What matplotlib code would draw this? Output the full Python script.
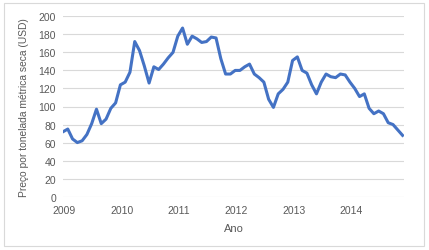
import numpy as np
import matplotlib.pyplot as plt
from matplotlib.patches import Rectangle

# monthly price, Jan 2009 .. Dec 2014
price = [72, 75, 64, 60, 62, 69, 81, 97, 81, 86, 98, 104,
         124, 127, 138, 172, 162, 145, 126, 144, 141, 147, 154, 160,
         178, 187, 169, 178, 175, 171, 172, 177, 176, 153, 136, 136,
         140, 140, 144, 147, 136, 132, 127, 108, 99, 114, 119, 127,
         151, 155, 140, 137, 124, 114, 127, 136, 133, 132, 136, 135,
         127, 120, 111, 114, 98, 92, 95, 92, 82, 80, 74, 68]
years = ['2009', '2010', '2011', '2012', '2013', '2014']
yticks = [0, 20, 40, 60, 80, 100, 120, 140, 160, 180, 200]

grey = '#595959'
plt.rcParams['font.family'] = ['Liberation Sans', 'DejaVu Sans']

fig = plt.figure(figsize=(4.29, 2.51), dpi=100)
fig.patches.append(Rectangle((4 / 429, 4 / 251), 420 / 429, 243 / 251,
                             transform=fig.transFigure, fill=False,
                             edgecolor='#D9D9D9', lw=0.8))

ax = fig.add_axes([63 / 429, 1 - 197.7 / 251, 341 / 429, 180.4 / 251])
x = np.arange(len(price))
ax.plot(x, price, color='#4472C4', lw=2.2, solid_joinstyle='round')

ax.set_xlim(0, 71.3)
ax.set_ylim(0, 200)
ax.set_yticks(yticks)
ax.set_xticks(np.arange(len(years)) * 12 + 0.3)
ax.set_xticklabels(years)
ax.grid(axis='y', color='#D9D9D9', lw=0.8)
ax.set_axisbelow(True)
for s in ax.spines.values():
    s.set_visible(False)
ax.tick_params(length=0, labelsize=7.5, colors=grey)
ax.tick_params(axis='x', pad=6)
ax.tick_params(axis='y', pad=5)
ax.set_xlabel('Ano', fontsize=8, color=grey, labelpad=6)
ax.set_ylabel('Preço por tonelada métrica seca (USD)', fontsize=7.4, color=grey, labelpad=7)

fig.savefig('out.png', dpi=100)
